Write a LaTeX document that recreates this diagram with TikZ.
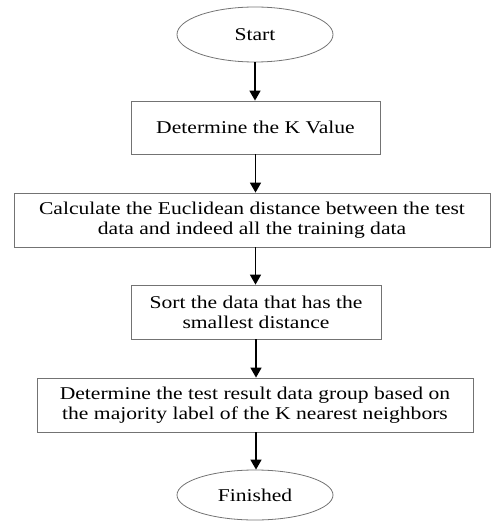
\documentclass[tikz,border=0pt]{standalone}
\usepackage{fontspec}
\setmainfont{Liberation Serif}[FakeStretch=1.2]
\usetikzlibrary{shapes.geometric,arrows.meta}
\begin{document}
\begin{tikzpicture}[x=1pt,y=-1pt,
  every node/.style={inner sep=0pt, align=center,
    font=\fontsize{18}{20}\selectfont},
  stepbox/.style={draw=black!55, line width=0.8pt, rectangle, minimum height=54pt},
  terminal/.style={draw=black!55, line width=0.8pt, ellipse, minimum width=156pt},
  flow/.style={line width=1.6pt, -{Triangle[width=11pt,length=10pt]}}]
  \useasboundingbox (0,0) rectangle (491,521);

  \node[terminal, minimum height=55pt] (start) at (255,34.5) {Start};
  \node[stepbox, minimum width=249pt, minimum height=53pt] (b1) at (255.5,127.5)
    {Determine the K Value};
  \node[stepbox, minimum width=476pt] (b2) at (252,220)
    {Calculate the Euclidean distance between the test\\data and indeed all the training data};
  \node[stepbox, minimum width=250pt] (b3) at (256,312)
    {Sort the data that has the\\smallest distance};
  \node[stepbox, minimum width=436pt] (b4) at (255,405)
    {Determine the test result data group based on\\the majority label of the K nearest neighbors};
  \node[terminal, minimum height=50pt] (fin) at (255,495) {Finished};

  \draw[flow] (start.south) -- (start.south |- b1.north);
  \draw[flow] (b1.south) -- (b1.south |- b2.north);
  \draw[flow] (b1.south |- b2.south) -- (b1.south |- b3.north);
  \draw[flow] (b3.south) -- (b3.south |- b4.north);
  \draw[flow] (b3.south |- b4.south) -- (b3.south |- fin.north);
\end{tikzpicture}
\end{document}
